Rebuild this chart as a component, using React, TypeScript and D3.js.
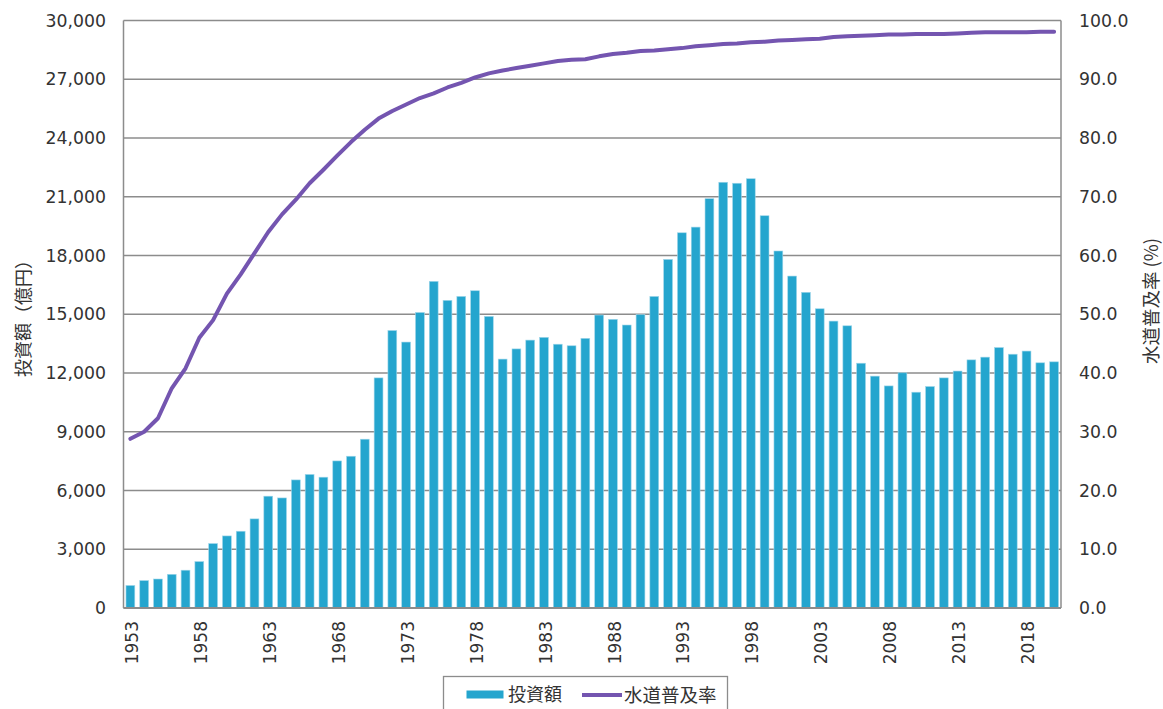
import React from "react";
import * as d3 from "d3";

const years: number[] = d3.range(1953, 2021);

const investment: number[] = [
  1150, 1400, 1480, 1720, 1930, 2370, 3290, 3680, 3920, 4550,
  5710, 5620, 6540, 6820, 6680, 7510, 7750, 8620, 11750, 14170,
  13580, 15090, 16680, 15710, 15910, 16200, 14890, 12710, 13230, 13680,
  13820, 13470, 13390, 13770, 14960, 14740, 14450, 14980, 15910, 17800,
  19160, 19450, 20900, 21740, 21690, 21920, 20030, 18230, 16950, 16120,
  15280, 14650, 14410, 12500, 11840, 11340, 12010, 11020, 11310, 11750,
  12100, 12670, 12810, 13300, 12960, 13120, 12520, 12570,
];

const coverage: number[] = [
  28.8, 30.0, 32.3, 37.4, 40.8, 46.0, 49.0, 53.5, 56.8, 60.4,
  64.0, 67.0, 69.5, 72.3, 74.6, 77.0, 79.3, 81.4, 83.3, 84.6,
  85.7, 86.8, 87.6, 88.6, 89.4, 90.3, 91.0, 91.5, 91.9, 92.3,
  92.7, 93.1, 93.3, 93.4, 93.9, 94.3, 94.5, 94.8, 94.9, 95.1,
  95.3, 95.6, 95.8, 96.0, 96.1, 96.3, 96.4, 96.6, 96.7, 96.8,
  96.9, 97.2, 97.3, 97.4, 97.5, 97.6, 97.6, 97.7, 97.7, 97.7,
  97.8, 97.9, 98.0, 98.0, 98.0, 98.0, 98.1, 98.1,
];

const leftTicks: number[] = d3.range(0, 30001, 3000);
const rightTicks: number[] = d3.range(0, 101, 10);
const yearLabels: number[] = d3.range(1953, 2021, 5);

const barLabel = "投資額";
const lineLabel = "水道普及率";
const leftTitle = "投資額（億円）";
const rightTitle = "水道普及率 (%)";

export default function App() {
  const W = 1163;
  const H = 709;
  const L = 123.5;
  const R = 1061;
  const T = 20.5;
  const B = 608;

  const x = d3
    .scaleBand<number>()
    .domain(years)
    .range([L, R])
    .paddingInner(0.36)
    .paddingOuter(0.18);
  const yL = d3.scaleLinear().domain([0, 30000]).range([B, T]);
  const yR = d3.scaleLinear().domain([0, 100]).range([B, T]);

  const fmtL = d3.format(",");
  const fmtR = d3.format(".1f");

  const line = d3
    .line<number>()
    .x((_, i) => (x(years[i]) as number) + x.bandwidth() / 2)
    .y((d) => yR(d));

  const numFont = "'DejaVu Sans', Verdana, sans-serif";
  const cjkFont = "'Noto Sans CJK JP', 'Noto Sans', sans-serif";
  const gridColor = "#8c8c8c";
  const textColor = "#333333";
  const barColor = "#24A5CE";
  const lineColor = "#7455B0";

  return (
    <svg
      width={W}
      height={H}
      style={{ position: "absolute", left: 0, top: 0, background: "#fff" }}
    >
      {leftTicks.map((t) => (
        <line
          key={"g" + t}
          x1={L}
          x2={R}
          y1={yL(t)}
          y2={yL(t)}
          stroke={gridColor}
          strokeWidth={1.3}
        />
      ))}

      {investment.map((v, i) => (
        <rect
          key={"b" + i}
          x={x(years[i]) as number}
          y={yL(v)}
          width={x.bandwidth()}
          height={B - yL(v)}
          fill={barColor}
          stroke="#9fd6ea"
          strokeWidth={0.6}
        />
      ))}

      <line x1={L} x2={L} y1={T} y2={B} stroke={gridColor} strokeWidth={1.5} />
      <line x1={R} x2={R} y1={T} y2={B} stroke={gridColor} strokeWidth={1.5} />
      <line x1={L} x2={R} y1={B} y2={B} stroke={gridColor} strokeWidth={1.8} />

      <path
        d={line(coverage) || ""}
        fill="none"
        stroke={lineColor}
        strokeWidth={4}
        strokeLinejoin="round"
        strokeLinecap="round"
      />

      {leftTicks.map((t) => (
        <text
          key={"lt" + t}
          x={106}
          y={yL(t)}
          dy="0.36em"
          textAnchor="end"
          fontFamily={numFont}
          fontSize={17.3}
          fill={textColor}
        >
          {fmtL(t)}
        </text>
      ))}

      {rightTicks.map((t) => (
        <text
          key={"rt" + t}
          x={1079}
          y={yR(t)}
          dy="0.36em"
          textAnchor="start"
          fontFamily={numFont}
          fontSize={17.3}
          fill={textColor}
        >
          {fmtR(t)}
        </text>
      ))}

      {yearLabels.map((yv) => {
        const cx = (x(yv) as number) + x.bandwidth() / 2 + 1.5;
        return (
          <text
            key={"x" + yv}
            transform={`translate(${cx},${621}) rotate(-90)`}
            dy="0.36em"
            textAnchor="end"
            fontFamily={numFont}
            fontSize={17}
            fill={textColor}
          >
            {yv}
          </text>
        );
      })}

      <text
        transform={`translate(24,314) rotate(-90)`}
        dy="0.36em"
        textAnchor="middle"
        fontFamily={cjkFont}
        fontSize={18}
        fill={textColor}
      >
        {leftTitle}
      </text>
      <text
        transform={`translate(1151,301) rotate(-90)`}
        dy="0.36em"
        textAnchor="middle"
        fontFamily={cjkFont}
        fontSize={18.5}
        fill={textColor}
      >
        {rightTitle}
      </text>

      <rect
        x={443.5}
        y={676.5}
        width={284}
        height={40}
        fill="#fff"
        stroke={gridColor}
        strokeWidth={1.3}
      />
      <rect x={466.5} y={690.5} width={37} height={8} fill={barColor} />
      <text
        x={508}
        y={695}
        dy="0.36em"
        fontFamily={cjkFont}
        fontSize={18}
        fill={textColor}
      >
        {barLabel}
      </text>
      <line
        x1={582}
        x2={622}
        y1={695}
        y2={695}
        stroke={lineColor}
        strokeWidth={4}
      />
      <text
        x={624}
        y={695}
        dy="0.36em"
        fontFamily={cjkFont}
        fontSize={18.5}
        fill={textColor}
      >
        {lineLabel}
      </text>
    </svg>
  );
}
